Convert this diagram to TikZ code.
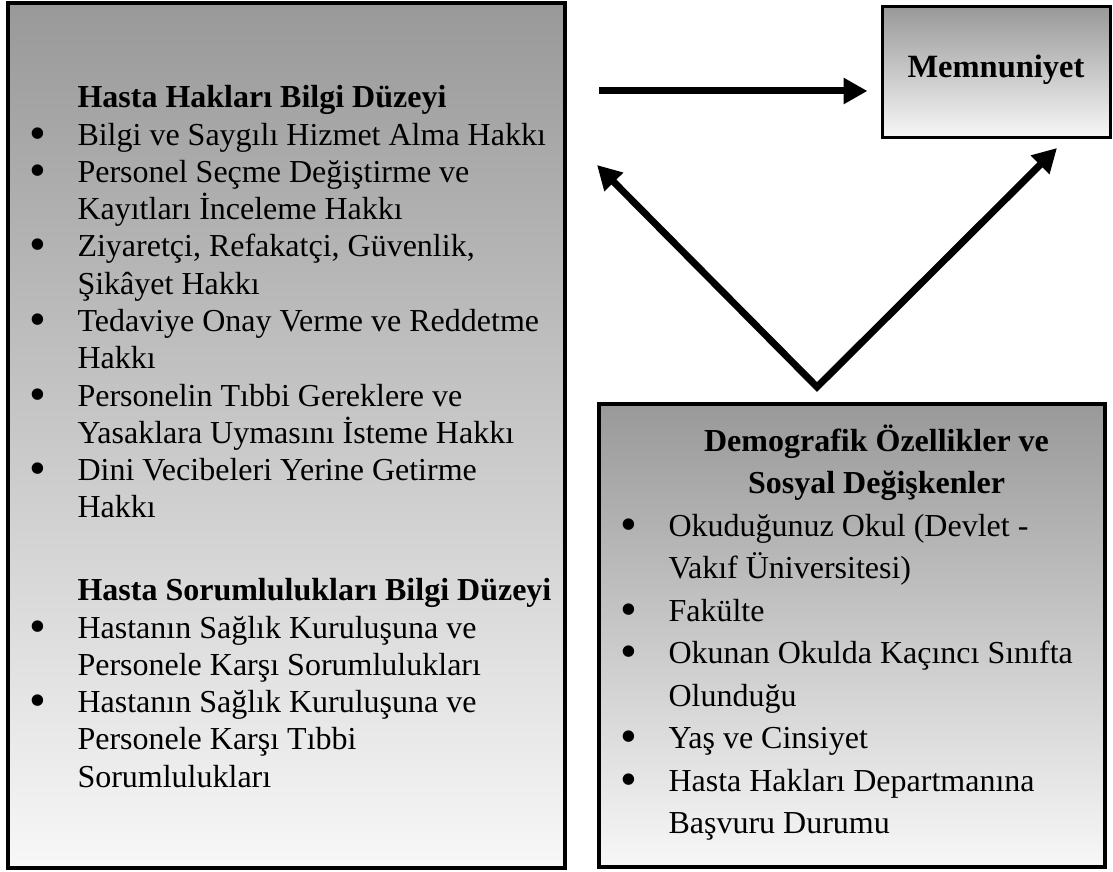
\documentclass[tikz,border=0pt]{standalone}
\usepackage{fontspec}
\setmainfont{Liberation Serif}
\usepackage{graphicx}
\usepackage{tikz}
\usetikzlibrary{arrows.meta}
\usetikzlibrary{positioning}

\newcommand{\bul}{\llap{\raisebox{-1.6pt}{\scalebox{1.5}{\textbullet}}\hspace{12.6pt}}}
\newcommand{\lines}[2]{\parbox[t]{300pt}{\lineskiplimit=-20pt\baselineskip=#1 #2}}

\tikzset{
  gbox/.style={draw=black, line width=1.4pt, top color=black!40, bottom color=black!3, inner sep=0pt},
  arr/.style={line width=2.8pt, line join=miter, -{Triangle[length=9.6pt,width=10pt]}},
  dblarr/.style={line width=2.8pt, line join=miter, {Triangle[length=9.6pt,width=10pt]}-{Triangle[length=9.6pt,width=10pt]}},
  txt/.style={anchor=base west, inner sep=0pt, font=\fontsize{12.8pt}{15pt}\selectfont},
}

\begin{document}
\begin{tikzpicture}[x=0.4pt,y=-0.4pt]
\useasboundingbox (0,0) rectangle (1113,872);

% boxes
\node[gbox, minimum width=222.8pt, minimum height=346pt] (hak) at (286.5,435.5) {};
\node[gbox, line width=1.2pt, minimum width=91.2pt, minimum height=52.4pt] (memn) at (996,72.5) {};
\node[gbox, minimum width=202.4pt, minimum height=185.2pt] (demo) at (852,635.5) {};

% texts
\node[txt] (haktext) at (77,108) {\lines{14.9pt}{%
\textbf{Hasta Hakları Bilgi Düzeyi}\\
\bul Bilgi ve Saygılı Hizmet Alma Hakkı\\
\bul Personel Seçme Değiştirme ve\\
Kayıtları İnceleme Hakkı\\
\bul Ziyaretçi, Refakatçi, Güvenlik,\\
Şikâyet Hakkı\\
\bul Tedaviye Onay Verme ve Reddetme\\
Hakkı\\
\bul Personelin Tıbbi Gereklere ve\\
Yasaklara Uymasını İsteme Hakkı\\
\bul Dini Vecibeleri Yerine Getirme\\
Hakkı\\[18.3pt]
\textbf{Hasta Sorumlulukları Bilgi Düzeyi}\\
\bul Hastanın Sağlık Kuruluşuna ve\\
Personele Karşı Sorumlulukları\\
\bul Hastanın Sağlık Kuruluşuna ve\\
Personele Karşı Tıbbi\\
Sorumlulukları}};

\node[font=\bfseries\fontsize{13pt}{15pt}\selectfont] (memntext) at ([yshift=1pt]memn.center) {Memnuniyet};

\node[txt] (demotext) at (668,451) {\lines{17pt}{%
\makebox[166.4pt]{\textbf{Demografik Özellikler ve}}\\
\makebox[166.4pt]{\textbf{Sosyal Değişkenler}}\\
\bul Okuduğunuz Okul (Devlet -\\
Vakıf Üniversitesi)\\
\bul Fakülte\\
\bul Okunan Okulda Kaçıncı Sınıfta\\
Olunduğu\\
\bul Yaş ve Cinsiyet\\
\bul Hasta Hakları Departmanına\\
Başvuru Durumu}};

% arrows
\coordinate (hs) at (0,91);
\coordinate (apex) at (817,387);
\coordinate (ltip) at (597,165);
\coordinate (rtip) at (1057,148);
\draw[arr, shorten <=12.8pt, shorten >=5.2pt] (hak.east |- hs) -- (memn.west |- hs);
\draw[dblarr] (ltip) -- (apex) -- (rtip);
\end{tikzpicture}
\end{document}
